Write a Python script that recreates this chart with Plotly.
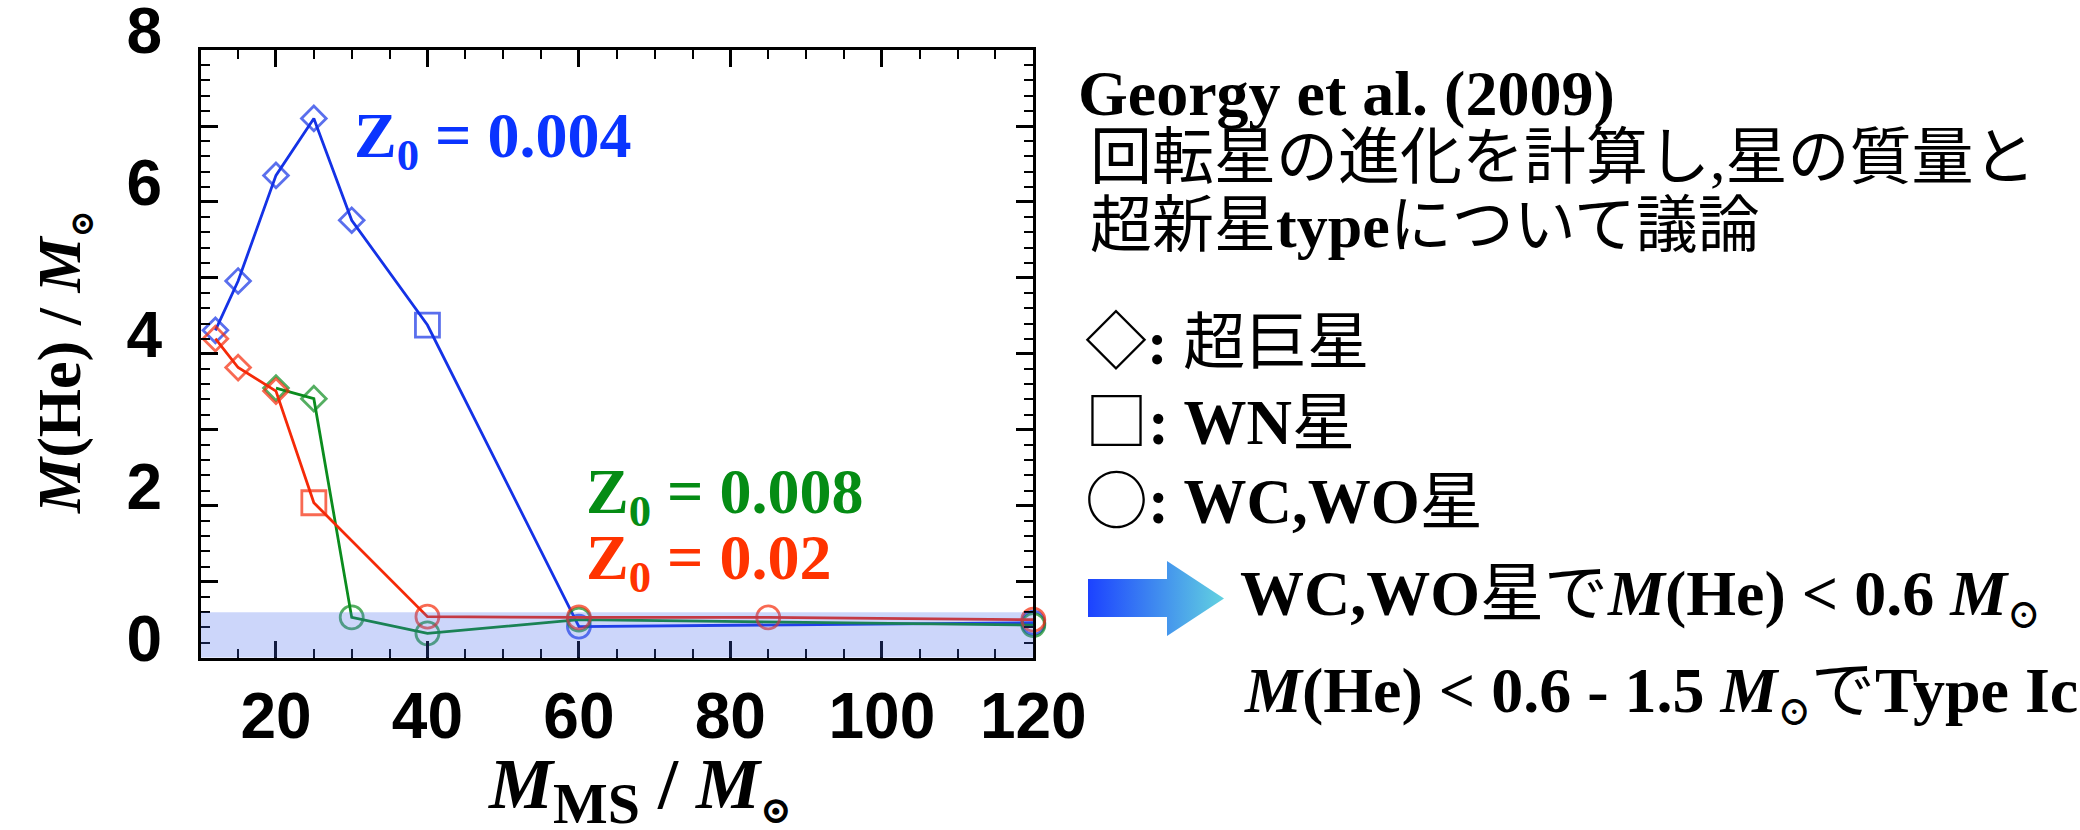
import plotly.graph_objects as go

# ---- data: He mass left in the star vs. initial mass (rotating models) ----
mass_z004 = [12, 15, 20, 25, 30, 40, 60, 120]
he_z004 = [4.31, 4.96, 6.35, 7.10, 5.76, 4.38, 0.41, 0.46]
stage_z004 = ["SG", "SG", "SG", "SG", "SG", "WN", "WC", "WC"]

mass_z008 = [20, 25, 30, 40, 60, 120]
he_z008 = [3.55, 3.41, 0.53, 0.32, 0.50, 0.43]
stage_z008 = ["SG", "SG", "WC", "WC", "WC", "WC"]

mass_z02 = [12, 15, 20, 25, 40, 60, 85, 120]
he_z02 = [4.20, 3.82, 3.51, 2.04, 0.54, 0.53, 0.53, 0.50]
stage_z02 = ["SG", "SG", "SG", "WN", "WC", "WC", "WC", "WC"]

x_ticks = [20, 40, 60, 80, 100, 120]
y_ticks = [0, 1, 2, 3, 4, 5, 6, 7, 8]
y_ticktext = ["0", "", "2", "", "4", "", "6", "", "8"]
he_limit = 0.6  # WC/WO stars with M(He) below this

W, H = 2080, 830
SYMBOL = {"SG": "diamond-open", "WN": "square-open", "WC": "circle-open"}
SIZE = {"SG": 19, "WN": 24, "WC": 23}

BLUE, GREEN, RED = "#1432e6", "#0b8c1e", "#f52a08"


def px_x(p):
    return p / W


def px_y(p):
    return 1 - p / H


fig = go.Figure()

for m, he, st, col in [
    (mass_z004, he_z004, stage_z004, BLUE),
    (mass_z008, he_z008, stage_z008, GREEN),
    (mass_z02, he_z02, stage_z02, RED),
]:
    fig.add_trace(go.Scatter(
        x=m, y=he, mode="lines+markers",
        line=dict(color=col, width=2.8),
        marker=dict(symbol=[SYMBOL[s] for s in st], size=[SIZE[s] for s in st],
                    color=col, line=dict(color=col, width=2.8)),
        showlegend=False, cliponaxis=False,
    ))

# gradient arrow on its own hidden axes
arrow_x = [0, 79, 79, 136, 79, 79, 0, 0]
arrow_y = [19, 19, 0, 37.5, 75, 57, 57, 19]
fig.add_trace(go.Scatter(
    x=arrow_x, y=arrow_y, xaxis="x2", yaxis="y2", mode="lines",
    fill="toself", line=dict(width=0),
    fillgradient=dict(type="horizontal",
                      colorscale=[[0, "#1c42ff"], [1, "#62d2e0"]]),
    showlegend=False, hoverinfo="skip",
))

tick_font = dict(family="Liberation Sans Narrow, Arial Narrow, Liberation Sans",
                 size=64, color="black", weight="bold")
axis_common = dict(
    showline=True, linecolor="black", linewidth=3, mirror="allticks",
    ticks="inside", ticklen=17, tickwidth=2.5, tickcolor="black",
    showgrid=False, zeroline=False, tickfont=tick_font, automargin=False,
    ticklabeloverflow="allow",
)

fig.update_layout(
    width=W, height=H,
    margin=dict(l=0, r=0, t=0, b=0, autoexpand=False),
    paper_bgcolor="white", plot_bgcolor="white",
    xaxis=dict(
        domain=[201 / W, 1033.3 / W], range=[10.1, 120],
        tickvals=x_ticks, ticklabelstandoff=0,
        minor=dict(dtick=5, ticks="inside", ticklen=9, tickwidth=2, tickcolor="black"),
        **axis_common,
    ),
    yaxis=dict(
        domain=[px_y(657.7), px_y(50)], range=[0, 8.001],
        tickvals=y_ticks, ticktext=y_ticktext,
        ticklabelstandoff=23, ticklabelshift=-19,
        minor=dict(dtick=0.2, ticks="inside", ticklen=9, tickwidth=2, tickcolor="black"),
        **axis_common,
    ),
    xaxis2=dict(domain=[px_x(1088), px_x(1224)], range=[0, 136], visible=False,
                anchor="y2", fixedrange=True),
    yaxis2=dict(domain=[px_y(636), px_y(561)], range=[0, 75], visible=False,
                anchor="x2", fixedrange=True),
)

# translucent band marking M(He) < 0.6, laid over the curves
fig.add_shape(type="rect", xref="x domain", x0=0, x1=1, yref="y", y0=0, y1=he_limit,
              fillcolor="rgba(67,104,237,0.27)", line=dict(width=0), layer="above")

SERIF = "Liberation Serif, DejaVu Serif, Noto Sans CJK JP"
MIXED = "Liberation Serif, Noto Sans CJK JP, DejaVu Sans"
CJK = "font-family:Noto Sans CJK JP"
SUN = "<sub><span style='font-size:75%'>⊙</span></sub>"


def note(text, x, y, size, color="black", family=MIXED, xanchor="left", angle=0):
    fig.add_annotation(
        text=text, x=px_x(x), y=px_y(y), xref="paper", yref="paper",
        xanchor=xanchor, yanchor="middle", showarrow=False, textangle=angle,
        font=dict(family=family, size=size, color=color),
    )


# axis titles
note(f"<b><i>M</i>(He) / <i>M</i>{SUN}</b>", 62, 362, 62,
     family=SERIF, xanchor="center", angle=-90)
note(f"<b><i>M</i><sub><span style='font-size:115%'>MS</span></sub> / <i>M</i>{SUN}</b>",
     640, 790, 72, family=SERIF, xanchor="center")

# metallicity labels
note("<b>Z<sub>0</sub> = 0.004</b>", 352, 140, 64, color="#0a34ff", family=SERIF)
note("<b>Z<sub>0</sub> = 0.008</b>", 584, 496, 64, color="#058c14", family=SERIF)
note("<b>Z<sub>0</sub> = 0.02</b>", 584, 562, 64, color="#ff3300", family=SERIF)

# side notes
note("<b>Georgy et al. (2009)</b>", 1076, 93, 64)
note("回転星の進化を計算し,星の質量と", 1088, 158, 62)
note("超新星<b>type</b>について議論", 1088, 226, 62)
note(f"<span style='{CJK}'>◇</span><b>: </b>超巨星", 1083, 337, 62)
note(f"<span style='{CJK}'>□</span><b>: WN</b>星", 1083, 416, 63)
note(f"<span style='{CJK}'>○</span><b>: WC,WO</b>星", 1083, 495, 63)
note(f"<b>WC,WO</b>星で<b><i>M</i>(He) &lt; 0.6 <i>M</i>{SUN}</b>", 1238, 596, 64)
note(f"<b><i>M</i>(He) &lt; 0.6 - 1.5 <i>M</i>{SUN}</b>で<b>Type Ic</b>", 1242, 693, 64)

fig.write_html("out.html")
